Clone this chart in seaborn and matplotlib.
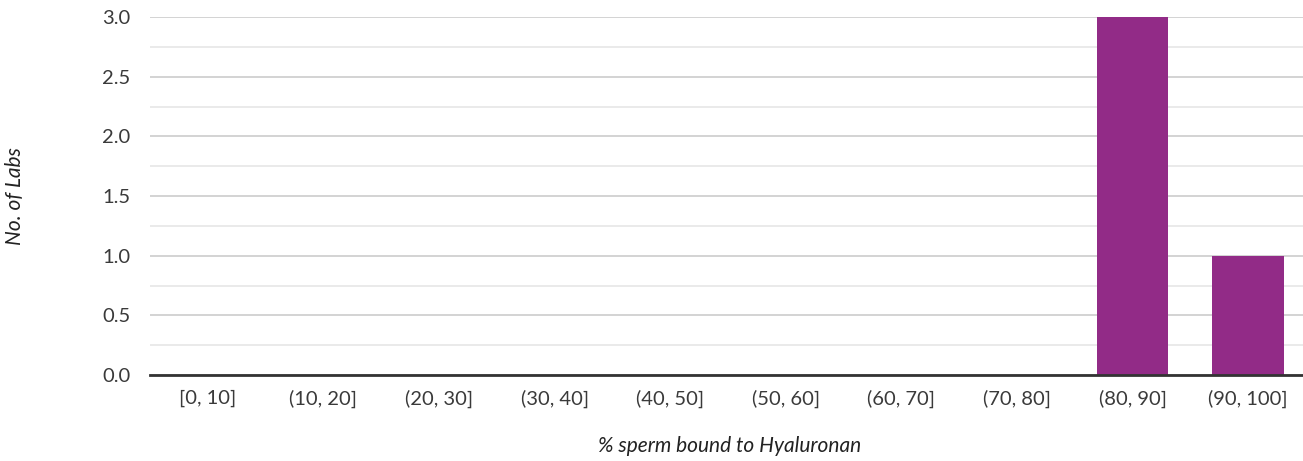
import matplotlib
matplotlib.use("Agg")
import matplotlib.pyplot as plt
import pandas as pd
import seaborn as sns
from matplotlib.ticker import MultipleLocator

# Data
bins = ["[0, 10]", "(10, 20]", "(20, 30]", "(30, 40]", "(40, 50]",
        "(50, 60]", "(60, 70]", "(70, 80]", "(80, 90]", "(90, 100]"]
labs = [0, 0, 0, 0, 0, 0, 0, 0, 3, 1]

df = pd.DataFrame({"bin": bins, "labs": labs})

sns.set_style("white")
plt.rcParams["font.family"] = ["Lato", "DejaVu Sans"]

fig = plt.figure(figsize=(13.03, 4.61), dpi=100)
ax_w = 1156
ax = fig.add_axes([150 / 1303, 1 - 375 / 461, ax_w / 1303, 358 / 461])

sns.barplot(data=df, x="bin", y="labs", color="#922b87", saturation=1,
            width=0.62, linewidth=0, ax=ax, zorder=3)

ax.set_ylim(0, 3)
ax.set_xlim(-0.5, 9.5)
ax.yaxis.set_major_locator(MultipleLocator(0.5))
ax.yaxis.set_minor_locator(MultipleLocator(0.25))
ax.grid(which="major", axis="y", color="#cccccc", linewidth=1.2, zorder=0)
ax.grid(which="minor", axis="y", color="#e6e6e6", linewidth=1.2, zorder=0)
ax.set_axisbelow(True)

for s in ["top", "right", "left"]:
    ax.spines[s].set_visible(False)
ax.spines["bottom"].set_color("#333333")
ax.spines["bottom"].set_linewidth(2)
ax.spines["bottom"].set_zorder(4)

ax.tick_params(axis="both", which="both", length=0, labelsize=14.5, colors="#3a3a3a")
ax.tick_params(axis="y", pad=14)
ax.tick_params(axis="x", pad=10.5)
ax.set_yticks([0, 0.5, 1.0, 1.5, 2.0, 2.5, 3.0])
ax.set_yticklabels(["0.0", "0.5", "1.0", "1.5", "2.0", "2.5", "3.0"])

ax.set_xlabel("% sperm bound to Hyaluronan", fontstyle="italic", fontsize=15,
              color="#222222", va="center")
ax.xaxis.set_label_coords((730 - 150) / ax_w, -71 / 358)
ax.set_ylabel("No. of Labs", fontstyle="italic", fontsize=15,
              color="#222222", va="center")
ax.yaxis.set_label_coords((15 - 150) / ax_w, 0.5)

fig.savefig("out.png", dpi=100)
